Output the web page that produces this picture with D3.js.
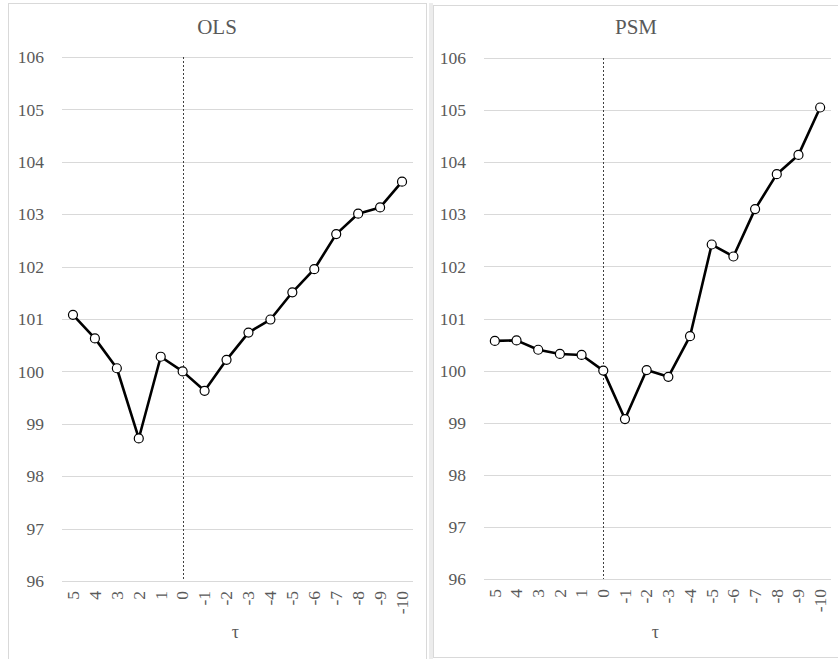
<!DOCTYPE html>
<html>
<head>
<meta charset="utf-8">
<script src="https://cdn.jsdelivr.net/npm/d3@7"></script>
<style>
  html, body { margin: 0; padding: 0; background: #fff; }
  svg { display: block; }
  svg text { font-family: "Liberation Serif", "Times New Roman", serif !important; fill: #595959; }
</style>
</head>
<body>
<svg id="chart" width="838" height="659"></svg>
<script>
// Event-time index (τ) and the two estimated series
const tau = ["5", "4", "3", "2", "1", "0", "-1", "-2", "-3", "-4", "-5", "-6", "-7", "-8", "-9", "-10"];
const olsValues = [101.08, 100.63, 100.06, 98.72, 100.28, 100.00, 99.63, 100.22, 100.74, 100.99, 101.51, 101.95, 102.62, 103.01, 103.13, 103.62];
const psmValues = [100.57, 100.58, 100.40, 100.32, 100.30, 100.00, 99.07, 100.01, 99.88, 100.66, 102.42, 102.19, 103.10, 103.77, 104.14, 105.05];
const yTicks = [96, 97, 98, 99, 100, 101, 102, 103, 104, 105, 106];
const eventDate = "0";

const serif = '"Liberation Serif", "Times New Roman", serif';
const svg = d3.select("#chart");

// Panel frames
svg.append("rect").attr("x", 8.5).attr("y", 3.5).attr("width", 418).attr("height", 670)
  .attr("fill", "#fff").attr("stroke", "#d9d9d9");
svg.append("rect").attr("x", 429).attr("y", 3).attr("width", 4).attr("height", 656)
  .attr("fill", "#ececec");
svg.append("rect").attr("x", 433.5).attr("y", 5.5).attr("width", 420).attr("height", 652)
  .attr("fill", "#fff").attr("stroke", "#d9d9d9");

function panel(cfg) {
  const g = svg.append("g");
  const x = d3.scaleBand().domain(tau).range([cfg.x0, cfg.x1]);
  const y = d3.scaleLinear().domain([96, 106]).range([cfg.yBottom, cfg.yTop]);
  const cx = d => x(d) + x.bandwidth() / 2;

  // Gridlines
  g.append("g").selectAll("line").data(yTicks).join("line")
    .attr("x1", cfg.x0).attr("x2", cfg.x1)
    .attr("y1", d => Math.round(y(d)) + 0.5).attr("y2", d => Math.round(y(d)) + 0.5)
    .attr("stroke", "#d9d9d9").attr("stroke-width", 1);

  // Y axis labels
  const yAxis = d3.axisLeft(y).tickValues(yTicks).tickSize(0).tickPadding(0).tickFormat(d3.format("d"));
  const ya = g.append("g").attr("transform", `translate(${cfg.yLabelX},0)`).call(yAxis)
    .attr("font-family", serif).attr("font-size", 17.5);
  ya.select(".domain").remove();
  ya.selectAll("text").attr("fill", "#595959");

  // X axis labels, rotated
  const xAxis = d3.axisBottom(x).tickSize(0).tickPadding(0);
  const xa = g.append("g").attr("transform", `translate(0,${cfg.yBottom})`).call(xAxis)
    .attr("font-family", serif).attr("font-size", 17.5);
  xa.select(".domain").remove();
  xa.selectAll("text")
    .attr("fill", "#595959")
    .attr("text-anchor", "end").attr("dy", "0.33em")
    .attr("transform", "translate(0,10) rotate(-90)")
    .attr("x", 0).attr("y", 0);

  // Event date marker
  g.append("line")
    .attr("x1", Math.round(cx(eventDate)) + 0.5).attr("x2", Math.round(cx(eventDate)) + 0.5)
    .attr("y1", y(106)).attr("y2", y(96))
    .attr("stroke", "#404040").attr("stroke-width", 1).attr("stroke-dasharray", "2,2");

  // Series line
  const pts = tau.map((t, i) => [cx(t), y(cfg.values[i])]);
  g.append("path").attr("d", d3.line()(pts))
    .attr("fill", "none").attr("stroke", "#000").attr("stroke-width", 2.6)
    .attr("stroke-linejoin", "round");

  g.append("g").selectAll("circle").data(pts).join("circle")
    .attr("cx", d => d[0]).attr("cy", d => d[1]).attr("r", 4.5)
    .attr("fill", "#fff").attr("stroke", "#000").attr("stroke-width", 1.2);

  // Titles
  g.append("text").attr("x", cfg.titleX).attr("y", 34).attr("text-anchor", "middle")
    .attr("font-family", serif).attr("font-size", 21).text(cfg.title);
  g.append("text").attr("x", cx("0") + (cfg.x1 - cfg.x0) * 0.15).attr("y", 638).attr("text-anchor", "middle")
    .attr("font-family", serif).attr("font-size", 18).text("τ");
}

panel({ title: "OLS", values: olsValues, x0: 62, x1: 413, yTop: 57, yBottom: 581, yLabelX: 44, titleX: 217 });
panel({ title: "PSM", values: psmValues, x0: 484, x1: 831, yTop: 58, yBottom: 579, yLabelX: 466, titleX: 636 });
</script>
</body>
</html>
